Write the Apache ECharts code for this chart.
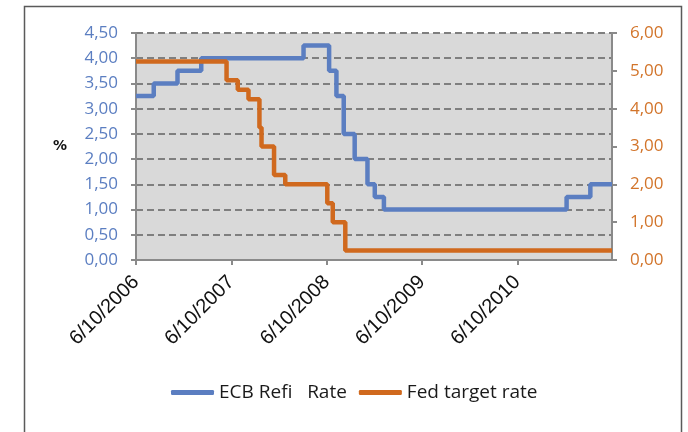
<!DOCTYPE html>
<html>
<head>
<meta charset="utf-8">
<script src="https://cdn.jsdelivr.net/npm/echarts@6/dist/echarts.min.js"></script>
<style>
  html, body { margin: 0; padding: 0; background: #ffffff; }
  #chart { width: 688px; height: 432px; }
</style>
</head>
<body>
<div id="chart"></div>
<script>
// Time window of the chart (day 0 = first date)
const startDate = '2006-10-06';
const endDate = '2011-10-04';

// ECB main refinancing rate, value in force from each date
const ecbDates = ['2006-10-06', '2006-12-13', '2007-03-14', '2007-06-13', '2008-07-09',
                  '2008-10-15', '2008-11-12', '2008-12-10', '2009-01-21', '2009-03-11',
                  '2009-04-08', '2009-05-13', '2011-04-13', '2011-07-13'];
const ecbRates = [3.25, 3.50, 3.75, 4.00, 4.25, 3.75, 3.25, 2.50, 2.00, 1.50, 1.25, 1.00, 1.25, 1.50];

// Fed funds target rate, value in force from each date
const fedDates = ['2006-10-06', '2007-09-18', '2007-10-31', '2007-12-11', '2008-01-22',
                  '2008-01-30', '2008-03-18', '2008-04-30', '2008-10-08', '2008-10-29',
                  '2008-12-16'];
const fedRates = [5.25, 4.75, 4.50, 4.25, 3.50, 3.00, 2.25, 2.00, 1.50, 1.00, 0.25];

// Date axis tick labels (d/m/yyyy)
const tickLabels = ['6/10/2006', '6/10/2007', '6/10/2008', '6/10/2009', '6/10/2010'];

const seriesNames = ['ECB Refi   Rate', 'Fed target rate'];

const DAY = 86400000;
const t0 = Date.parse(startDate);
function dayOf(iso) { return Math.round((Date.parse(iso) - t0) / DAY); }
function dayOfLabel(lbl) {
  const p = lbl.split('/');
  const iso = p[2] + '-' + p[1].padStart(2, '0') + '-' + p[0].padStart(2, '0');
  return dayOf(iso);
}
function stepData(dates, values) {
  const out = dates.map((d, i) => [dayOf(d), values[i]]);
  out.push([dayOf(endDate), values[values.length - 1]]);
  return out;
}

const tickPos = tickLabels.map(dayOfLabel);
const labelByDay = {};
tickPos.forEach((p, i) => { labelByDay[p] = tickLabels[i]; });

const fmt = v => v.toFixed(2).replace('.', ',');
const axisGrey = '#8a8a8a';
const blue = '#5b7ec1';
const orange = '#d0691e';

const chart = echarts.init(document.getElementById('chart'), null, { renderer: 'canvas' });
chart.setOption({
  animation: false,
  backgroundColor: '#ffffff',
  graphic: [{
    type: 'rect',
    shape: { x: 24.5, y: 6.5, width: 657, height: 440 },
    style: { fill: 'none', stroke: '#5a5a5a', lineWidth: 1.5 },
    silent: true
  }],
  grid: {
    left: 136, right: 76, top: 33, bottom: 172,
    show: true, backgroundColor: '#d9d9d9', borderWidth: 0,
    outerBoundsMode: 'none'
  },
  legend: {
    left: 171, top: 383, padding: 0,
    itemWidth: 43, itemHeight: 5, itemGap: 12,
    icon: 'roundRect',
    textStyle: { fontFamily: 'Open Sans', fontSize: 19, color: '#1a1a1a' },
    data: seriesNames
  },
  xAxis: {
    type: 'value',
    min: 0,
    max: dayOf(endDate),
    axisLine: { show: true, lineStyle: { color: axisGrey, width: 2 } },
    axisTick: { show: true, length: 5, customValues: tickPos, lineStyle: { color: axisGrey, width: 2 } },
    axisLabel: {
      customValues: tickPos,
      rotate: 45,
      margin: 19,
      color: '#111111',
      fontFamily: 'Liberation Sans',
      fontSize: 20,
      formatter: v => labelByDay[v] || ''
    },
    splitLine: { show: false }
  },
  yAxis: [{
    type: 'value',
    position: 'left',
    min: 0, max: 4.5, interval: 0.5,
    name: '%',
    nameLocation: 'middle',
    nameRotate: 0,
    nameGap: 69,
    nameTextStyle: { fontFamily: 'DejaVu Sans', fontWeight: 'bold', fontSize: 14, color: '#111111', padding: [8, 0, 0, 0] },
    axisLine: { show: true, lineStyle: { color: axisGrey, width: 2 } },
    axisTick: { show: true, length: 5, lineStyle: { color: axisGrey, width: 2 } },
    axisLabel: { margin: 18, color: blue, fontFamily: 'Open Sans', fontSize: 17, formatter: fmt },
    splitLine: { show: true, lineStyle: { color: '#7f7f7f', width: 2, type: [7, 4] } }
  }, {
    type: 'value',
    position: 'right',
    min: 0, max: 6, interval: 1,
    axisLine: { show: true, lineStyle: { color: axisGrey, width: 2 } },
    axisTick: { show: true, length: 5, lineStyle: { color: axisGrey, width: 2 } },
    axisLabel: { margin: 18, color: '#d2742a', fontFamily: 'Open Sans', fontSize: 17, formatter: fmt },
    splitLine: { show: false }
  }],
  series: [{
    name: seriesNames[0],
    type: 'line',
    step: 'end',
    yAxisIndex: 0,
    showSymbol: false,
    color: blue,
    lineStyle: { color: blue, width: 4.5 },
    data: stepData(ecbDates, ecbRates)
  }, {
    name: seriesNames[1],
    type: 'line',
    step: 'end',
    yAxisIndex: 1,
    showSymbol: false,
    color: orange,
    lineStyle: { color: orange, width: 4.5 },
    data: stepData(fedDates, fedRates)
  }]
});
</script>
</body>
</html>
